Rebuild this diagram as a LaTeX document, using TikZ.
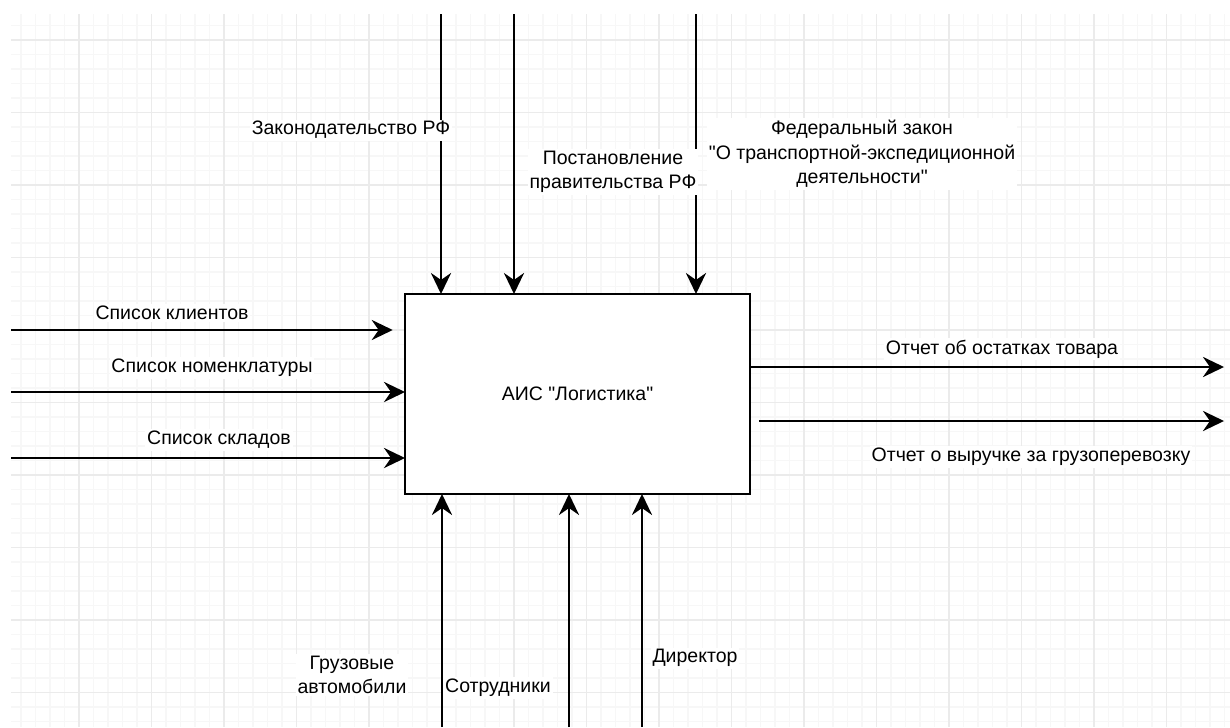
\documentclass[tikz,border=0pt]{standalone}
\usepackage{fontspec}
\setmainfont{Liberation Sans}[Ligatures=TeXOff]
\usetikzlibrary{arrows.meta}

\tikzset{
  lbl/.style={fill=white, inner sep=1pt, align=center},
  arr/.style={line width=1.1pt, -{Stealth[length=12pt,width=11.5pt,inset=4pt]}},
  minorline/.style={gray!6, line width=0.6pt},
  majorline/.style={gray!16, line width=0.8pt},
}

\begin{document}
\begin{tikzpicture}[x=0.02cm, y=-0.02cm, font=\fontsize{11.1}{14}\selectfont]
  \useasboundingbox (0,0) rectangle (1230,727);
  % grid
  \begin{scope}
    \clip (11,14) rectangle (1230,727);
    \foreach \i in {0,...,85} \draw[minorline] ({6.5+14.5*\i},14) -- ++(0,713);
    \foreach \i in {0,...,49} \draw[minorline] (11,{11+14.5*\i}) -- ++(1219,0);
    \foreach \i in {-1,...,16} \draw[majorline] ({79+72.5*\i},14) -- ++(0,713);
    \foreach \i in {-1,...,9} \draw[majorline] (11,{40+72.5*\i}) -- ++(1219,0);
  \end{scope}

  % main block
  \node[draw, fill=white, line width=1.1pt, minimum width=6.9cm, minimum height=4cm, outer sep=0pt]
    (ais) at (577.5,394) {АИС "Логистика"};

  % controls
  \coordinate (t1) at (441,14);
  \coordinate (t2) at (514,14);
  \coordinate (t3) at (696,14);
  \foreach \c in {t1,t2,t3}
    \draw[arr] (\c) -- (\c |- ais.north);

  % inputs
  \coordinate (in1) at (11,330);
  \coordinate (in2) at (11,392);
  \coordinate (in3) at (11,458);
  \draw[arr, shorten >=7] (in1) -- (in1 -| ais.west);
  \draw[arr] (in2) -- (in2 -| ais.west);
  \draw[arr] (in3) -- (in3 -| ais.west);

  % outputs
  \coordinate (out1) at (1224,367);
  \coordinate (out2) at (1224,421);
  \draw[arr] (out1 -| ais.east) -- (out1);
  \draw[arr, shorten <=5] (out2 -| ais.east) -- (out2);

  % mechanisms
  \coordinate (b1) at (442,727);
  \coordinate (b2) at (569,727);
  \coordinate (b3) at (642,727);
  \foreach \c in {b1,b2,b3}
    \draw[arr] (\c) -- (\c |- ais.south);

  % labels
  \node[lbl] (zak) at (351,130) {Законодательство РФ};
  \node[lbl] (post) at (613,172) {Постановление\\правительства РФ};
  \node[lbl] (fed) at (862,154) {Федеральный закон\\"О транспортной-экспедиционной\\деятельности"};
  \node[lbl] (klient) at (172,313) {Список клиентов};
  \node[lbl] (nomen) at (212,368) {Список номенклатуры};
  \node[lbl] (sklad) at (219,440) {Список складов};
  \node[lbl] (ostat) at (1002,349) {Отчет об остатках товара};
  \node[lbl] (vyruch) at (1031,457) {Отчет о выручке за грузоперевозку};
  \node[lbl] (gruz) at (352,675) {Грузовые\\автомобили};
  \node[lbl] (sotr) at (498,688) {Сотрудники};
  \node[lbl] (dir) at (695,658) {Директор};
\end{tikzpicture}
\end{document}
